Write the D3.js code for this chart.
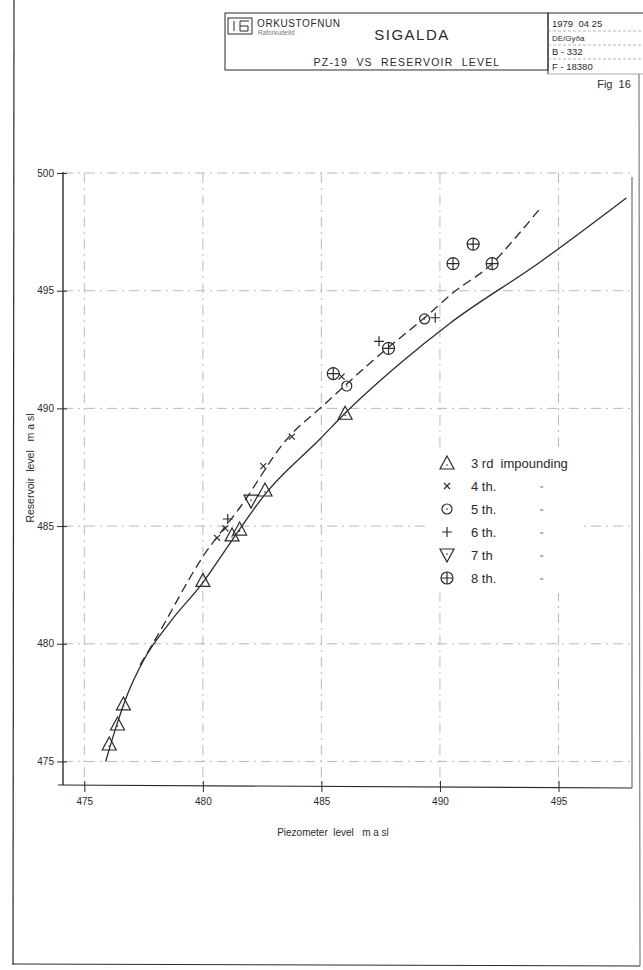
<!DOCTYPE html>
<html><head><meta charset="utf-8">
<script src="https://cdn.jsdelivr.net/npm/d3@7"></script>
<style>
html,body{margin:0;padding:0;background:#fff;}
svg{display:block;font-family:"Liberation Sans","DejaVu Sans",sans-serif;}
</style></head>
<body>
<script>
// ---- data ----
const xTicks = [475, 480, 485, 490, 495];
const yTicks = [475, 480, 485, 490, 495, 500];
const impound3 = [[476.05,475.7],[476.4,476.55],[476.65,477.4],[480.0,482.65],[481.23,484.58],[481.55,484.83],[482.62,486.49],[486.0,489.75]];
const impound4 = [[480.6,484.5],[480.95,484.9],[482.55,487.55],[483.75,488.8],[485.85,491.35]];
const impound5 = [[486.07,490.95],[489.35,493.8]];
const impound6 = [[481.05,485.3],[487.43,492.85],[489.8,493.85]];
const impound7 = [[482.03,486.06]];
const impound8 = [[485.5,491.48],[487.83,492.55],[490.55,496.15],[491.4,496.98],[492.2,496.15]];
const solidCurve = [[475.9,475.0],[476.35,476.5],[476.8,477.8],[477.5,479.3],[478.6,480.9],[480.0,482.6],[481.3,484.5],[482.62,486.35],[484.94,488.7],[486.1,489.9],[488.3,491.9],[490.4,493.6],[494.2,496.2],[497.86,498.94]];
const dashedCurve = [[477.35,479.1],[478.0,480.2],[480.0,483.7],[481.57,485.8],[483.55,488.7],[485.07,490.12],[487.48,492.3],[489.35,493.85],[490.6,494.95],[492.2,496.15],[493.1,497.15],[494.23,498.5]];
const legendItems = [
  {sym:"tri", label:"3 rd  impounding", ditto:""},
  {sym:"x", label:"4 th.", ditto:"\""},
  {sym:"circ", label:"5 th.", ditto:"\""},
  {sym:"plus", label:"6 th.", ditto:"\""},
  {sym:"itri", label:"7 th", ditto:"\""},
  {sym:"cplus", label:"8 th.", ditto:"\""}
];

const W = 643, H = 970;
const ink = "#2b2b2b";
const svg = d3.select("body").append("svg").attr("width", W).attr("height", H);

// page border
svg.append("line").attr("x1",14).attr("y1",0).attr("x2",13).attr("y2",965).attr("stroke",ink).attr("stroke-width",1.2);
svg.append("line").attr("x1",13).attr("y1",964).attr("x2",640).attr("y2",966).attr("stroke",ink).attr("stroke-width",1);
svg.append("line").attr("x1",639).attr("y1",74).attr("x2",640).attr("y2",966).attr("stroke","#666").attr("stroke-width",1);

// title block
const tb = svg.append("g");
tb.append("rect").attr("x",225).attr("y",13).attr("width",323).attr("height",57).attr("fill","none").attr("stroke",ink).attr("stroke-width",1);
tb.append("line").attr("x1",548).attr("y1",13).attr("x2",548).attr("y2",74).attr("stroke",ink).attr("stroke-width",1);
tb.append("line").attr("x1",548).attr("y1",13).attr("x2",643).attr("y2",13).attr("stroke",ink).attr("stroke-width",1);
[31,45,59].forEach(yy=>tb.append("line").attr("x1",548).attr("y1",yy).attr("x2",643).attr("y2",yy).attr("stroke","#999").attr("stroke-width",0.7).attr("stroke-dasharray","3,2"));
tb.append("line").attr("x1",548).attr("y1",74).attr("x2",643).attr("y2",74).attr("stroke","#888").attr("stroke-width",0.7);
// logo
tb.append("rect").attr("x",228).attr("y",18).attr("width",24).attr("height",16).attr("fill","none").attr("stroke",ink).attr("stroke-width",1);
tb.append("path").attr("d","M234,21 V31 M240,21 V31 M240,21 H249 M240,26 H248 M248,26 V31 H240").attr("fill","none").attr("stroke",ink).attr("stroke-width",1);
tb.append("text").attr("x",257).attr("y",27).attr("font-size",10).attr("letter-spacing",0.6).attr("fill",ink).text("ORKUSTOFNUN");
tb.append("text").attr("x",258).attr("y",35).attr("font-size",6.5).attr("fill","#777").text("Raforkudeild");
tb.append("text").attr("x",412).attr("y",40).attr("text-anchor","middle").attr("font-size",15).attr("letter-spacing",1.5).attr("fill",ink).text("SIGALDA");
tb.append("text").attr("x",407).attr("y",66).attr("text-anchor","middle").attr("font-size",10.5).attr("letter-spacing",1.2).attr("fill",ink).attr("xml:space","preserve").text("PZ-19  VS  RESERVOIR  LEVEL");
const rc = [["1979  04 25",27],["DE/Gy\u00f0a",41],["B - 332",55],["F - 18380",70]];
rc.forEach(r=>tb.append("text").attr("x",552).attr("y",r[1]).attr("font-size",r[0].startsWith("DE")?8:9.5).attr("fill",ink).attr("xml:space","preserve").text(r[0]));
svg.append("text").attr("x",614).attr("y",88).attr("text-anchor","middle").attr("font-size",11).attr("fill",ink).attr("xml:space","preserve").text("Fig  16");

// scales
const x = d3.scaleLinear().domain([474.1, 498.1]).range([63, 632]);
const y = d3.scaleLinear().domain([474, 500]).range([785, 173]);

// grid
const grid = svg.append("g").attr("stroke","#a8a8a8").attr("stroke-width",0.8).attr("stroke-dasharray","10,5,2,5");
xTicks.forEach(v=>grid.append("line").attr("x1",x(v)).attr("x2",x(v)).attr("y1",y(500)).attr("y2",y(474)));
yTicks.forEach(v=>grid.append("line").attr("x1",x(474.1)).attr("x2",x(498.1)).attr("y1",y(v)).attr("y2",y(v)));

// frame
svg.append("line").attr("x1",x(474.1)).attr("x2",x(474.1)).attr("y1",y(500)-1).attr("y2",y(474)).attr("stroke",ink).attr("stroke-width",1.4);
svg.append("line").attr("x1",x(474.1)-5).attr("x2",x(498.1)).attr("y1",y(474)).attr("y2",y(474)+3).attr("stroke",ink).attr("stroke-width",1.2);
svg.append("line").attr("x1",x(498.1)).attr("x2",x(498.1)).attr("y1",y(500)+4).attr("y2",y(474)+3).attr("stroke","#555").attr("stroke-width",1);

// axes
const yAxis = d3.axisLeft(y).tickValues(yTicks).tickSize(6).tickSizeOuter(0).tickPadding(3).tickFormat(d3.format("d"));
const gy = svg.append("g").attr("transform",`translate(${x(474.1)},0)`).call(yAxis);
gy.select(".domain").remove();
gy.selectAll(".tick line").attr("stroke",ink).attr("x2",-6).attr("x1",4);
gy.selectAll("text").attr("font-size",10).attr("fill",ink).attr("font-family","Liberation Sans, sans-serif");
const xAxis = d3.axisBottom(x).tickValues(xTicks).tickSize(6).tickSizeOuter(0).tickPadding(6).tickFormat(d3.format("d"));
const gx = svg.append("g").attr("transform",`translate(0,${y(474)+1})`).call(xAxis);
gx.select(".domain").remove();
gx.selectAll(".tick line").attr("stroke",ink).attr("y1",-5).attr("y2",6);
gx.selectAll("text").attr("font-size",10).attr("fill",ink).attr("font-family","Liberation Sans, sans-serif");

svg.append("text").attr("transform","translate(34,468) rotate(-90)").attr("text-anchor","middle").attr("font-size",10.5).attr("fill",ink).attr("xml:space","preserve").text("Reservoir  level   m a sl");
svg.append("text").attr("x",333).attr("y",836).attr("text-anchor","middle").attr("font-size",10).attr("fill",ink).attr("xml:space","preserve").text("Piezometer  level   m a sl");

// curves
const line = d3.line().x(d=>x(d[0])).y(d=>y(d[1])).curve(d3.curveMonotoneX);
svg.append("path").datum(solidCurve).attr("d",line).attr("fill","none").attr("stroke",ink).attr("stroke-width",1.3);
svg.append("path").datum(dashedCurve).attr("d",line).attr("fill","none").attr("stroke",ink).attr("stroke-width",1.3).attr("stroke-dasharray","9,5");

// legend mask
svg.append("rect").attr("x",428).attr("y",448).attr("width",155).attr("height",145).attr("fill","#fff");

// markers
function drawSym(g, type, cx, cy) {
  const s = g.append("g").attr("transform",`translate(${cx},${cy})`).attr("fill","none").attr("stroke",ink).attr("stroke-width",1.2);
  if (type==="tri") { s.append("path").attr("d","M0,-8 L7,5 L-7,5 Z"); s.append("circle").attr("cy",1).attr("r",0.8).attr("fill",ink).attr("stroke","none"); }
  if (type==="itri") { s.append("path").attr("d","M0,7 L7,-6 L-7,-6 Z"); s.append("circle").attr("cy",-1).attr("r",0.8).attr("fill",ink).attr("stroke","none"); }
  if (type==="x") { s.append("path").attr("d","M-3,-3 L3,3 M-3,3 L3,-3"); }
  if (type==="plus") { s.append("path").attr("d","M-5,0 H5 M0,-5 V5"); }
  if (type==="circ") { s.append("circle").attr("r",5); s.append("circle").attr("r",0.8).attr("fill",ink).attr("stroke","none"); }
  if (type==="cplus") { s.append("circle").attr("r",6); s.append("path").attr("d","M-6,0 H6 M0,-6 V6"); }
}
const pts = svg.append("g");
[[impound3,"tri"],[impound4,"x"],[impound5,"circ"],[impound6,"plus"],[impound7,"itri"],[impound8,"cplus"]].forEach(([arr,t])=>{
  arr.forEach(d=>drawSym(pts,t,x(d[0]),y(d[1])));
});

// legend
const lg = svg.append("g");
legendItems.forEach((it,i)=>{
  const cy = 463 + i*23;
  drawSym(lg, it.sym, 447, it.sym==="tri"?cy+1:cy);
  lg.append("text").attr("x",471).attr("y",cy+5).attr("font-size",13).attr("fill",ink).attr("xml:space","preserve").text(it.label);
  if (it.ditto) lg.append("text").attr("x",540).attr("y",cy+6).attr("font-size",9).attr("fill","#666").text(it.ditto);
});
</script>
</body></html>
